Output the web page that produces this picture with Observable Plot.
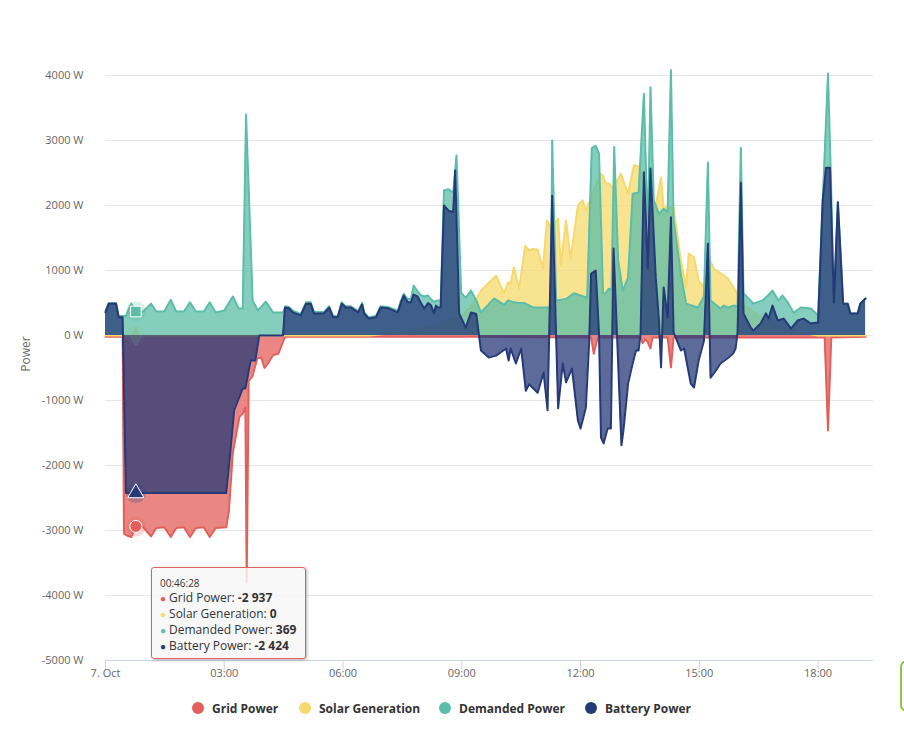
<!DOCTYPE html>
<html>
<head>
<meta charset="utf-8">
<script src="https://cdn.jsdelivr.net/npm/d3@7"></script>
<script src="https://cdn.jsdelivr.net/npm/@observablehq/plot@0.6"></script>
<style>
html,body{margin:0;padding:0;background:#fff;}
body{font-family:"Open Sans",sans-serif;}
#wrap{position:relative;width:904px;height:744px;overflow:hidden;}
#chart svg{display:block;}
#ytitle{position:absolute;left:25px;top:354px;transform:translate(-50%,-50%) rotate(-90deg);font-size:12px;color:#666;white-space:nowrap;}
#tooltip{position:absolute;left:151px;top:567px;width:155px;height:92px;box-sizing:border-box;border:1px solid #e35f5b;border-radius:3px;background:rgba(247,247,247,0.85);box-shadow:1px 1px 3px rgba(0,0,0,0.3);padding:8px 8px;font-size:12px;color:#333;line-height:15px;white-space:nowrap;}
#tooltip .time{font-size:10px;line-height:14px;}
#tooltip .dot{font-size:10px;margin-right:3px;}
#legend{position:absolute;top:699px;left:0;width:904px;height:20px;}
.item{position:absolute;top:0;height:18px;display:flex;align-items:center;font-weight:bold;font-size:12px;color:#333;white-space:nowrap;}
.item .sym{width:12px;height:12px;border-radius:50%;margin-right:8px;}
#edge{position:absolute;left:900px;top:660px;width:14px;height:48px;border:2px solid #8cc63f;border-radius:7px;}
</style>
</head>
<body>
<div id="wrap">
  <div id="chart"></div>
  <div id="ytitle">Power</div>
  <div id="tooltip"></div>
  <div id="legend"></div>
  <div id="edge"></div>
</div>
<script>
// [minutes since 00:00 on 7 Oct, watts]
const gridPower = [[0,-20],[26,-20],[28,-3050],[33,-3080],[39,-3100],[46,-2937],[57,-2950],[69,-3090],[77,-2960],[89,-2950],[99,-3100],[107,-2960],[119,-2950],[128,-3100],[137,-2960],[149,-2950],[158,-3100],[167,-2960],[183,-2950],[187,-2700],[193,-1800],[203,-1250],[208,-1200],[212,-1100],[214,-3800],[217,-700],[223,-620],[230,-350],[236,-340],[241,-500],[247,-420],[254,-300],[262,-280],[268,-120],[272,-20],[560,-20],[736,-30],[740,-280],[746,-30],[811,-30],[814,-120],[818,-60],[822,-100],[826,-200],[829,-30],[852,-30],[857,-490],[861,-30],[1090,-30],[1095,-1460],[1100,-30],[1152,-20]];

const solarGeneration = [[0,0],[46,0],[400,0],[450,50],[500,150],[540,300],[562,550],[569,690],[580,800],[592,920],[604,650],[610,815],[614,800],[619,1050],[627,720],[636,1380],[642,1310],[648,1330],[655,1320],[663,1030],[669,1770],[675,1650],[686,1800],[690,1080],[698,1770],[705,1180],[716,2000],[723,2080],[728,1920],[740,2230],[751,2490],[754,2460],[758,2340],[763,2340],[770,2260],[781,2490],[792,2180],[801,2620],[808,2600],[816,2400],[822,2200],[834,2000],[842,2430],[846,1970],[861,1970],[872,1150],[880,740],[884,1260],[892,1200],[899,850],[907,740],[914,1200],[922,1030],[943,880],[955,690],[963,500],[990,300],[1020,150],[1050,50],[1080,0],[1152,0]];

const demandedPower = [[0,380],[5,500],[16,500],[20,300],[26,300],[31,300],[39,490],[46,369],[57,370],[69,490],[77,370],[89,370],[99,550],[107,370],[119,370],[128,510],[137,370],[149,370],[158,510],[167,355],[180,385],[193,600],[202,415],[208,415],[213,3400],[223,540],[231,385],[243,520],[254,355],[269,355],[273,450],[278,440],[284,380],[296,330],[304,510],[311,510],[316,360],[331,360],[339,450],[345,300],[352,300],[358,510],[364,450],[372,450],[383,375],[389,500],[392,360],[399,280],[410,300],[417,450],[428,440],[443,380],[448,540],[452,640],[458,560],[463,560],[467,770],[473,680],[478,620],[483,600],[489,615],[493,560],[498,520],[504,540],[508,540],[513,2230],[520,2250],[527,2200],[532,2770],[539,660],[546,580],[554,690],[562,540],[569,355],[580,470],[589,570],[604,470],[610,540],[619,510],[627,500],[634,500],[649,430],[664,430],[675,430],[677,3000],[683,540],[698,560],[710,650],[730,580],[737,2880],[743,2920],[748,2800],[754,650],[758,650],[763,720],[767,700],[771,2900],[777,1150],[784,690],[792,890],[799,2180],[808,2200],[816,3720],[822,1510],[826,3820],[831,2080],[839,1870],[846,1950],[852,1900],[857,4080],[861,1770],[872,950],[880,490],[898,430],[907,600],[913,2660],[917,540],[932,415],[937,460],[944,430],[952,460],[958,450],[963,2890],[967,650],[982,490],[996,540],[1004,615],[1011,690],[1020,540],[1026,615],[1034,510],[1043,350],[1054,430],[1069,415],[1080,310],[1095,4030],[1099,2600],[1104,510],[1110,2050],[1118,490],[1125,490],[1129,340],[1140,340],[1144,490],[1152,570]];

const batteryPower = [[0,355],[5,490],[16,490],[20,280],[26,280],[31,-2424],[46,-2424],[183,-2424],[189,-1815],[195,-1150],[208,-815],[212,-815],[220,-385],[227,-385],[233,0],[269,0],[272,430],[278,420],[284,355],[296,310],[304,490],[311,490],[316,340],[331,340],[339,430],[345,280],[352,280],[358,490],[364,430],[372,430],[383,355],[389,480],[392,340],[399,260],[410,280],[417,430],[428,420],[443,355],[448,510],[452,615],[458,510],[463,510],[467,630],[473,600],[478,500],[483,415],[489,500],[493,470],[498,340],[501,460],[504,430],[508,430],[513,2000],[520,1920],[527,1900],[530,2540],[536,340],[546,120],[554,355],[562,330],[569,-230],[581,-340],[592,-310],[607,-200],[611,-385],[614,-200],[622,-430],[630,-200],[637,-850],[642,-750],[655,-880],[664,-570],[670,-1150],[677,2150],[686,-1120],[693,-430],[698,-720],[707,-510],[716,-1310],[720,-1430],[728,-1110],[733,-120],[736,950],[743,1000],[748,30],[751,-1570],[755,-1660],[761,-1430],[766,-1430],[770,1340],[782,-1690],[785,-1460],[792,-740],[799,-430],[804,-230],[808,-230],[811,30],[816,2510],[822,1030],[826,2570],[834,890],[839,200],[842,-490],[846,740],[852,280],[857,1820],[861,50],[872,-230],[877,-200],[887,-740],[892,-800],[899,-385],[907,-80],[913,1410],[917,-650],[925,-540],[932,-430],[943,-350],[951,-280],[955,-200],[958,50],[963,2350],[967,340],[978,120],[982,75],[993,185],[1001,340],[1005,260],[1011,460],[1019,230],[1028,260],[1039,105],[1049,230],[1058,260],[1069,185],[1080,200],[1087,2080],[1092,2580],[1098,2580],[1104,510],[1110,2050],[1118,490],[1125,490],[1129,340],[1140,340],[1144,490],[1152,570]];

const seriesNames = ["Grid Power", "Solar Generation", "Demanded Power", "Battery Power"];
const seriesColors = ["#e35f5b", "#f6d96c", "#5cbea8", "#263a78"];
const seriesSymbols = ["circle", "diamond", "square", "triangle"];
const xTickMinutes = [0, 180, 360, 540, 720, 900, 1080];
const xTickLabels = ["7. Oct", "03:00", "06:00", "09:00", "12:00", "15:00", "18:00"];
const yTickValues = [-5000, -4000, -3000, -2000, -1000, 0, 1000, 2000, 3000, 4000];
const xDomainMinutes = [0, 1164];
const yDomain = [-5000, 4000];
const hoverMinute = 46;
const hoverTime = "00:46:28";

const seriesData = [gridPower, solarGeneration, demandedPower, batteryPower];
const rows = seriesData.map((arr, i) => arr.map(([t, v]) => ({t, v, s: seriesNames[i]})));
const hover = seriesData.map((arr, i) => {
  const p = arr.find(d => d[0] === hoverMinute);
  return {t: p[0], v: p[1], name: seriesNames[i], color: seriesColors[i], symbol: seriesSymbols[i]};
});

const marks = [Plot.gridY(yTickValues, {stroke: "#e6e6e6", strokeOpacity: 1, strokeWidth: 1})];
rows.forEach((r, i) => {
  marks.push(Plot.areaY(r, {x: "t", y: "v", fill: seriesColors[i], fillOpacity: 0.75}));
  marks.push(Plot.lineY(r, {x: "t", y: "v", stroke: seriesColors[i], strokeWidth: 2, strokeLinejoin: "round", strokeLinecap: "round"}));
  const h = hover[i];
  marks.push(Plot.dot([h], {x: "t", y: "v", r: 10, fill: h.color, fillOpacity: 0.25, symbol: "circle"}));
  marks.push(Plot.dot([h], {x: "t", y: "v", r: 6, fill: h.color, stroke: "#fff", strokeWidth: 1, symbol: h.symbol}));
});
marks.push(
  Plot.ruleY([yDomain[0]], {stroke: "#ccd6eb", strokeWidth: 1}),
  Plot.axisX({ticks: xTickMinutes, tickSize: 10, tickFormat: () => "", color: "#ccd6eb", label: null}),
  Plot.axisX({ticks: xTickMinutes, tickSize: 0, tickPadding: 9, tickFormat: d => xTickLabels[xTickMinutes.indexOf(d)], color: "#666", label: null}),
  Plot.axisY({ticks: yTickValues, tickSize: 0, tickPadding: 22, tickFormat: d => `${d} W`, color: "#666", label: null})
);

const chart = Plot.plot({
  width: 904,
  height: 690,
  marginLeft: 105,
  marginRight: 31,
  marginTop: 75,
  marginBottom: 30,
  x: {domain: xDomainMinutes, label: null},
  y: {domain: yDomain, label: null},
  style: {fontFamily: '"Open Sans", sans-serif', fontSize: "11px", background: "transparent", overflow: "visible"},
  marks
});
document.getElementById("chart").appendChild(chart);

// tooltip
const fmt = v => {
  const s = Math.abs(v).toString().replace(/\B(?=(\d{3})+(?!\d))/g, " ");
  return (v < 0 ? "-" : "") + s;
};
const tip = document.getElementById("tooltip");
tip.innerHTML = `<div class="time">${hoverTime}</div>` + hover.map(h =>
  `<div><span class="dot" style="color:${h.color}">●</span>${h.name}: <b>${fmt(h.v)}</b></div>`).join("");

// legend
const legendLeft = [192, 299, 439, 585];
const legend = document.getElementById("legend");
seriesNames.forEach((n, i) => {
  const it = document.createElement("div");
  it.className = "item";
  it.style.left = legendLeft[i] + "px";
  it.innerHTML = `<span class="sym" style="background:${seriesColors[i]}"></span>${n}`;
  legend.appendChild(it);
});
</script>
</body>
</html>
